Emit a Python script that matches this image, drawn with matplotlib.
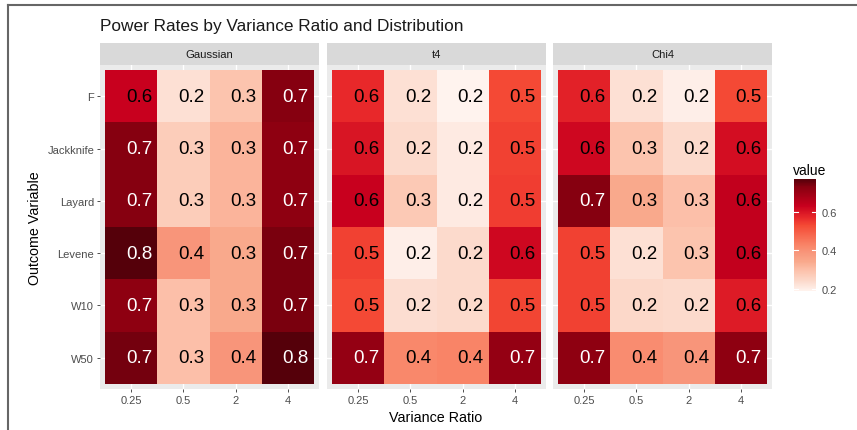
import numpy as np
import matplotlib
matplotlib.use("Agg")
import matplotlib.pyplot as plt
from matplotlib.colors import Normalize, LinearSegmentedColormap
from matplotlib.lines import Line2D
import matplotlib.colorbar as mcolorbar

plt.rcParams['font.family'] = ['Liberation Sans', 'DejaVu Sans']

# data
ratios = ["0.25", "0.5", "2", "4"]
outcomes = ["F", "Jackknife", "Layard", "Levene", "W10", "W50"]
distributions = ["Gaussian", "t4", "Chi4"]

# power, rows = outcomes, cols = variance ratios
gaussian = [
    [0.63, 0.23, 0.29, 0.73],
    [0.73, 0.27, 0.32, 0.72],
    [0.73, 0.27, 0.32, 0.72],
    [0.77, 0.39, 0.34, 0.74],
    [0.72, 0.30, 0.34, 0.74],
    [0.745, 0.30, 0.39, 0.77],
]
t4 = [
    [0.57, 0.23, 0.19, 0.53],
    [0.60, 0.24, 0.21, 0.54],
    [0.63, 0.28, 0.21, 0.545],
    [0.54, 0.20, 0.24, 0.62],
    [0.53, 0.235, 0.24, 0.535],
    [0.71, 0.42, 0.43, 0.71],
]
chi4 = [
    [0.58, 0.23, 0.20, 0.53],
    [0.62, 0.29, 0.24, 0.61],
    [0.73, 0.34, 0.30, 0.64],
    [0.54, 0.23, 0.29, 0.64],
    [0.54, 0.245, 0.24, 0.59],
    [0.72, 0.41, 0.39, 0.72],
]
panels = [np.array(gaussian), np.array(t4), np.array(chi4)]

# red palette, roughly what the R plot used
reds = LinearSegmentedColormap.from_list("reds_r", [
    (0.0, "#fff3ee"), (0.086, "#fcdacc"), (0.19, "#fcbfa8"),
    (0.26, "#f9a98c"), (0.345, "#f8957a"), (0.414, "#f98366"),
    (0.586, "#f44a35"), (0.655, "#e8282a"), (0.76, "#c8001e"),
    (0.93, "#880010"), (1.0, "#55000a"),
])

W, H = 857, 431
fig = plt.figure(figsize=(W / 100, H / 100), dpi=100)


def px(l, t, w, h):
    return [l / W, 1 - (t + h) / H, w / W, h / H]


vmin = min(p.min() for p in panels)
vmax = max(p.max() for p in panels)
norm = Normalize(vmin, vmax)

lefts = [100, 327, 553]
top, bottom = 66, 390
pw = 219

xs = np.arange(1, len(ratios) + 1)
ys = np.arange(1, len(outcomes) + 1)

for k, (name, vals) in enumerate(zip(distributions, panels)):
    ax = fig.add_axes(px(lefts[k], top, pw, bottom - top))
    ax.set_facecolor("#EBEBEB")
    ax.pcolormesh(np.arange(0.5, len(ratios) + 1), np.arange(0.5, len(outcomes) + 1),
                  vals, cmap=reds, norm=norm, zorder=2)
    for x in xs:
        ax.axvline(x, color="white", lw=1.0, zorder=1)
    for y in ys:
        ax.axhline(y, color="white", lw=1.0, zorder=1)
    for i in range(len(outcomes)):
        for j in range(len(ratios)):
            v = vals[i, j]
            ax.text(xs[j] + 0.15, ys[i], f"{v:.1f}", ha="center", va="center",
                    fontsize=13.5, color="white" if v >= 0.67 else "black", zorder=3)
    ax.set_xlim(0.4, len(ratios) + 0.6)
    ax.set_ylim(len(outcomes) + 0.6, 0.4)
    ax.set_xticks(xs)
    ax.set_xticklabels(ratios)
    ax.set_yticks(ys)
    ax.tick_params(labelsize=8, labelcolor="#4D4D4D", color="#333333",
                   length=2.2, width=0.6, pad=2)
    if k == 0:
        ax.set_yticklabels(outcomes)
    else:
        ax.set_yticklabels([])
        ax.tick_params(axis="y", length=0)
    for s in ax.spines.values():
        s.set_visible(False)

    # strip
    st = fig.add_axes(px(lefts[k], 44, pw, 22))
    st.set_facecolor("#D9D9D9")
    st.set_xticks([])
    st.set_yticks([])
    for s in st.spines.values():
        s.set_visible(False)
    st.text(0.5, 0.5, name, ha="center", va="center", fontsize=8.1,
            color="#1A1A1A", transform=st.transAxes)

fig.text(100 / W, 1 - 27 / H, "Power Rates by Variance Ratio and Distribution",
         fontsize=12.4, ha="left", va="center", color="#1A1A1A")
fig.text(436 / W, 1 - 418 / H, "Variance Ratio", fontsize=10.3,
         ha="center", va="center")
fig.text(35 / W, 1 - 228 / H, "Outcome Variable", fontsize=10.3,
         ha="center", va="center", rotation=90)

# legend
fig.text(793 / W, 1 - 171 / H, "value", fontsize=10, ha="left", va="center")
cax = fig.add_axes(px(794, 180, 22, 112))
cb = mcolorbar.ColorbarBase(cax, cmap=reds, norm=norm, orientation="vertical")
cb.outline.set_visible(False)
cb.set_ticks([0.2, 0.4, 0.6])
cb.set_ticklabels(["0.2", "0.4", "0.6"])
cax.tick_params(labelsize=8, labelcolor="#4D4D4D", length=0, pad=4)
for t in [0.2, 0.4, 0.6]:
    cax.plot([0, 0.2], [t, t], color="white", lw=0.8, transform=cax.get_yaxis_transform())
    cax.plot([0.8, 1], [t, t], color="white", lw=0.8, transform=cax.get_yaxis_transform())

# frame of the screenshot
fig.add_artist(Line2D([8 / W, 1], [1 - 5.5 / H, 1 - 5.5 / H], color="#666666",
                      lw=1.5, transform=fig.transFigure))
fig.add_artist(Line2D([8 / W, 8 / W], [0, 1 - 5.5 / H], color="#666666",
                      lw=1.5, transform=fig.transFigure))

fig.savefig("out.png", dpi=100)
